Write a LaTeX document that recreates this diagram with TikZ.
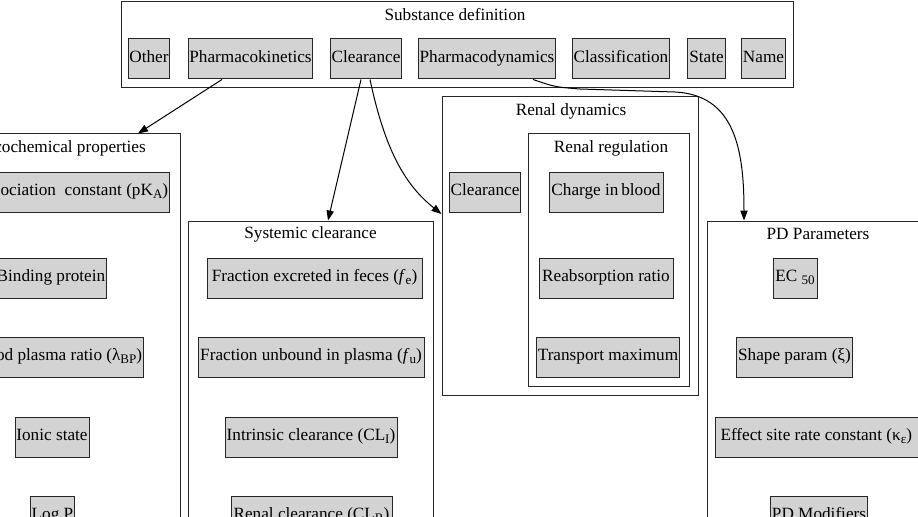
\documentclass[tikz,border=0pt]{standalone}
\usepackage{fontspec}
\setmainfont{Liberation Serif}
\usetikzlibrary{arrows.meta,calc}
\definecolor{nodegray}{HTML}{D3D3D3}
\def\pxu{0.75pt}
\newcommand\lowsub[1]{\raisebox{-0.45ex}{\fontsize{9.8}{10}\selectfont #1}}
\tikzset{
  box/.style={draw=black!85, fill=nodegray, line width=0.75pt, minimum height=40*\pxu,
    inner xsep=1pt, inner ysep=0pt, text height=0.7em, text depth=0.2em,
    font=\fontsize{12.9}{15}\selectfont},
  cluster/.style={draw=black!85, line width=0.75pt, inner sep=0pt},
  ctitle/.style={inner sep=0pt, font=\fontsize{12.9}{15}\selectfont},
  edge/.style={draw=black, line width=0.75pt, -{Triangle[length=7.5pt,width=5.5pt]}}
}
\begin{document}
\begin{tikzpicture}[x=0.75pt,y=-0.75pt]
\useasboundingbox (0,0) rectangle (918,517);
\clip (0,0) rectangle (918,517);

% Substance definition cluster
\node[cluster, minimum width=672*\pxu, minimum height=86*\pxu] (subst) at (457,45) {};
\node[ctitle] (substT) at (455,15) {Substance definition};
\node[box, minimum width=40*\pxu]  (other) at (149,59) {Other};
\node[box, minimum width=123*\pxu] (pk)    at (250.5,59) {Pharmacokinetics};
\node[box, minimum width=68*\pxu]  (clr)   at (366,59) {Clearance};
\node[box, minimum width=132*\pxu] (pd)    at (487,59) {Pharmacodynamics};
\node[box, minimum width=96*\pxu]  (cls)   at (621,59) {Classification};
\node[box, minimum width=35*\pxu]  (state) at (706.5,59) {State};
\node[box, minimum width=41*\pxu]  (name)  at (763.5,59) {Name};

% Physicochemical properties cluster
\node[cluster, minimum width=260*\pxu, minimum height=396*\pxu] (physchem) at (50,332) {};
\node[ctitle, anchor=east] (physchemT) at (146,148) {Physicochemical properties};
\node[box, anchor=east] (pka) at (170,192) {Dissociation\ \ constant (pK\lowsub{A})};
\node[box, anchor=east] (bind) at (107,278) {Binding protein};
\node[box, anchor=east] (bpr) at (144,357) {Blood plasma ratio (λ\lowsub{BP})};
\node[box, minimum width=74*\pxu] (ionic) at (52,437) {Ionic state};
\node[box, minimum width=41*\pxu] (logp) at (52.5,516) {Log P};

% Systemic clearance cluster
\node[cluster, minimum width=245*\pxu, minimum height=309*\pxu] (sysclr) at (310.5,375.5) {};
\node[ctitle] (sysclrT) at (310.5,234) {Systemic clearance};
\node[box, minimum width=215*\pxu] (fe) at (314.5,278) {Fraction excreted in feces (\textit{f}\lowsub{e})};
\node[box, minimum width=226*\pxu] (fu) at (311,357) {Fraction unbound in plasma (\textit{f}\lowsub{u})};
\node[box, minimum width=172*\pxu] (cli) at (311,437) {Intrinsic clearance (CL\lowsub{I})};
\node[box, minimum width=161*\pxu] (clrr) at (311.5,516) {Renal clearance (CL\lowsub{R})};

% Renal dynamics cluster
\node[cluster, minimum width=256*\pxu, minimum height=298*\pxu] (renaldyn) at (570,246) {};
\node[ctitle] (renaldynT) at (571,111) {Renal dynamics};
\node[box, minimum width=68*\pxu] (clr2) at (485,192) {Clearance};
\node[cluster, minimum width=161*\pxu, minimum height=252*\pxu] (renalreg) at (608.5,260) {};
\node[ctitle] (renalregT) at (611,148) {Renal regulation};
\node[box, minimum width=114*\pxu] (charge) at (606,192) {Charge in\,blood};
\node[box, minimum width=134*\pxu] (reabs) at (606,278) {Reabsorption ratio};
\node[box, minimum width=142*\pxu] (tmax) at (608,357) {Transport maximum};

% PD Parameters cluster
\node[cluster, minimum width=223*\pxu, minimum height=309*\pxu] (pdparam) at (818.5,375.5) {};
\node[ctitle] (pdparamT) at (818,234) {PD Parameters};
\node[box, minimum width=44*\pxu] (ec50) at (795,278) {EC \lowsub{50}};
\node[box, minimum width=113*\pxu] (shape) at (794.5,357) {Shape param (ξ)};
\node[box, anchor=west, inner xsep=3.75pt] (ke) at (715,437) {Effect site rate constant (κ\lowsub{ε})\kern12pt};
\node[box, minimum width=94*\pxu] (pdmod) at (819,516) {PD Modifiers};

% Edges
\draw[edge] ($(pk.south)+(-28.5,0)$) -- ($(physchem.north)+(88,0)$);
\draw[edge] ($(clr.south)+(-5,0)$) -- ($(sysclr.north)+(17.5,0)$);
\draw[edge] ($(clr.south)+(4,0)$) .. controls (385,150) and (405,185) .. ($(renaldyn.west)+(0,-32)$);
\draw[edge] ($(pd.south)+(46,0)$) .. controls (555,87) .. (580,89) -- (675,92)
  .. controls (735,95) and (744,150) .. ($(pdparam.north)+(-74.5,0)$);
\end{tikzpicture}
\end{document}
